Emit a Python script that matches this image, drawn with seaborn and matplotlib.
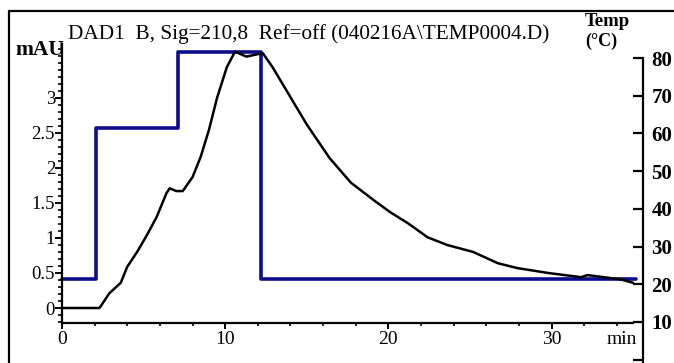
import matplotlib
matplotlib.use("Agg")
import matplotlib.pyplot as plt
import seaborn as sns
import pandas as pd
from matplotlib.ticker import MultipleLocator, FixedLocator
from matplotlib.lines import Line2D

# ---- data ----
sig_time = [0, 2.3, 2.9, 3.6, 4.0, 4.6, 5.2, 5.8, 6.4, 6.6, 7.0, 7.4, 8.0, 8.5, 9.0,
            9.5, 10.1, 10.6, 11.3, 12.3, 12.9, 14.0, 15.0, 16.4, 17.7, 19.1, 20.1,
            21.2, 22.4, 23.6, 25.2, 26.7, 27.9, 29.8, 31.8, 32.2, 34.2, 35.0]
sig_mau = [0.0, 0.0, 0.21, 0.36, 0.59, 0.80, 1.04, 1.30, 1.64, 1.71, 1.67, 1.67, 1.87,
           2.16, 2.54, 3.00, 3.44, 3.66, 3.59, 3.64, 3.44, 3.01, 2.62, 2.14, 1.79,
           1.54, 1.37, 1.21, 1.01, 0.90, 0.80, 0.64, 0.57, 0.50, 0.44, 0.47, 0.41, 0.36]

temp_time = [0, 2.1, 7.1, 12.2, 35.2]
temp_c = [21.5, 61.5, 81.5, 21.5, 21.5]

x_major = [0, 10, 20, 30]
y_major = [0, 0.5, 1, 1.5, 2, 2.5, 3]
y_major_labels = ["0", "0.5", "1", "1.5", "2", "2.5", "3"]
t_major = [0, 10, 20, 30, 40, 50, 60, 70, 80]
t_major_labels = ["", "10", "20", "30", "40", "50", "60", "70", "80"]

title = "DAD1  B, Sig=210,8  Ref=off (040216A\\TEMP0004.D)"

sig_df = pd.DataFrame({"time": sig_time, "mAU": sig_mau})
temp_df = pd.DataFrame({"time": temp_time, "temp": temp_c})

# ---- style ----
sns.set_style("ticks")
plt.rcParams["font.family"] = ["Liberation Serif", "DejaVu Serif"]
plt.rcParams.update({"text.color": "black", "xtick.color": "black",
                     "ytick.color": "black", "axes.edgecolor": "black",
                     "axes.labelcolor": "black"})

W, H = 674, 363
fig = plt.figure(figsize=(W / 100, H / 100), dpi=100)

def fx(px):
    return px / W

def fy(py):
    return 1 - py / H

L, R = 62, 643
ax = fig.add_axes([fx(L), fy(323), fx(R - L), fy(44) - fy(323)])
ax2 = fig.add_axes([fx(L), 0, fx(R - L), fy(58)])

XMAX = 35.6
navy = "#0c0c8c"

# temperature (behind)
sns.lineplot(data=temp_df, x="time", y="temp", ax=ax2, color=navy, lw=2.6,
             drawstyle="steps-post", clip_on=False)
ax2.set_xlim(0, XMAX)
ax2.set_ylim(-0.9, 80)
for s in ["left", "top", "bottom"]:
    ax2.spines[s].set_visible(False)
ax2.spines["right"].set_visible(True)
ax2.spines["right"].set_linewidth(1.6)
ax2.yaxis.tick_right()
ax2.yaxis.set_major_locator(FixedLocator(t_major))
ax2.set_yticklabels(t_major_labels)
ax2.tick_params(axis="y", direction="in", length=7, width=1.6, pad=6,
                labelsize=15)
for lab in ax2.get_yticklabels():
    lab.set_fontweight("bold")
ax2.set_xticks([])
ax2.set_xlabel("")
ax2.set_ylabel("")
ax2.patch.set_visible(False)

# signal (front)
sns.lineplot(data=sig_df, x="time", y="mAU", ax=ax, color="black", lw=1.8)
ax.set_zorder(ax2.get_zorder() + 1)
ax.patch.set_visible(False)
ax.set_xlim(0, XMAX)
ax.set_ylim(-0.214, 3.77)
ax.spines["top"].set_visible(False)
ax.spines["right"].set_visible(False)
ax.spines["left"].set_linewidth(1.6)
ax.spines["bottom"].set_linewidth(1.6)
ax.spines["bottom"].set_bounds(0, 35)
ax.set_xticks(x_major)
ax.xaxis.set_minor_locator(MultipleLocator(2))
ax.set_yticks(y_major)
ax.set_yticklabels(y_major_labels)
ax.yaxis.set_minor_locator(MultipleLocator(0.1))
ax.tick_params(axis="x", which="major", direction="out", length=4, width=1.4,
               labelsize=14, pad=2)
ax.tick_params(axis="x", which="minor", direction="out", length=2.5, width=1.2)
ax.tick_params(axis="y", which="major", direction="out", length=5, width=1.4,
               labelsize=13.5, pad=0)
ax.tick_params(axis="y", which="minor", direction="out", length=3, width=1.2)
ax.set_xlabel("")
ax.set_ylabel("")

# texts
fig.text(fx(68), fy(34), title, ha="left", va="center", fontsize=15.3)
fig.text(fx(15), fy(50), "mAU", ha="left", va="center", fontsize=15.5,
         fontweight="bold")
fig.text(fx(585), fy(21), "Temp", ha="left", va="center", fontsize=13.5,
         fontweight="bold")
fig.text(fx(585), fy(41), "(°C)", ha="left", va="center", fontsize=13,
         fontweight="bold")
fig.text(fx(607), fy(340), "min", ha="left", va="center", fontsize=14)

# outer frame (top and left)
fig.add_artist(Line2D([fx(9), 1], [fy(11), fy(11)], color="black", lw=1.6,
                      transform=fig.transFigure))
fig.add_artist(Line2D([fx(9), fx(9)], [0, fy(11)], color="black", lw=1.6,
                      transform=fig.transFigure))

fig.savefig("out.png", dpi=100)
